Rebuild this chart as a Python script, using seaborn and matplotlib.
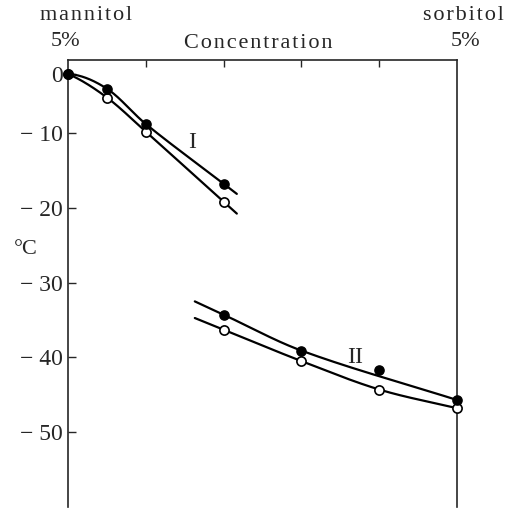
import numpy as np
import matplotlib
matplotlib.use("Agg")
import matplotlib.pyplot as plt
import seaborn as sns

# Freezing-point curves across the mannitol -> sorbitol concentration series
conc_I = [0, 10, 20, 40]
temp_I_filled = [0.0, -2.5, -8.5, -16.8]
temp_I_open = [0.0, -4.0, -9.8, -19.2]

conc_II = [40, 60, 80, 100]
temp_II_filled = [-34.3, -39.1, -41.7, -45.7]
temp_II_open = [-36.3, -40.5, -44.3, -46.8]
on_curve_II_filled = [True, True, False, True]

y_ticks = [0, -10, -20, -30, -40, -50]
y_tick_labels = ["0", "− 10", "− 20", "− 30", "− 40", "− 50"]
x_ticks = [20, 40, 60, 80]

# Curve extents along the concentration axis
span_I = (0, 43.4)
span_II = (32.6, 100)

# The temperature axis is compressed above -10 °C
K = 0.787


def fwd(v):
    v = np.asarray(v, dtype=float)
    return np.where(v < -10, v, -10 + (v + 10) * K)


def inv(f):
    f = np.asarray(f, dtype=float)
    return np.where(f < -10, f, -10 + (f + 10) / K)


def smooth_curve(xs, ys, lo, hi, start_slope=None, n=300):
    """Cardinal cubic Hermite through (xs, ys) in display space, extended linearly."""
    xs = np.asarray(xs, float)
    ys = fwd(ys)
    h = np.diff(xs)
    delta = np.diff(ys) / h
    m = len(xs)
    d = np.zeros(m)
    for k in range(1, m - 1):
        d[k] = (ys[k + 1] - ys[k - 1]) / (xs[k + 1] - xs[k - 1])
    d[0] = delta[0] if start_slope is None else start_slope
    d[-1] = delta[-1]
    gx = np.linspace(lo, hi, n)
    gy = np.empty_like(gx)
    for i, x in enumerate(gx):
        if x <= xs[0]:
            gy[i] = ys[0] + d[0] * (x - xs[0])
        elif x >= xs[-1]:
            gy[i] = ys[-1] + d[-1] * (x - xs[-1])
        else:
            k = min(np.searchsorted(xs, x) - 1, m - 2)
            t = (x - xs[k]) / h[k]
            h00 = 2 * t**3 - 3 * t**2 + 1
            h10 = t**3 - 2 * t**2 + t
            h01 = -2 * t**3 + 3 * t**2
            h11 = t**3 - t**2
            gy[i] = h00 * ys[k] + h10 * h[k] * d[k] + h01 * ys[k + 1] + h11 * h[k] * d[k + 1]
    return gx, inv(gy)


def spaced(s):
    return "\u200a".join(s)


sns.set_style("ticks")
plt.rcParams["font.family"] = ["Liberation Serif", "DejaVu Serif"]

fig = plt.figure(figsize=(5.06, 5.08), dpi=100)
ax = fig.add_axes([68 / 506, 1 / 508, (457 - 68) / 506, (507 - 60) / 508])
ax.set_yscale("function", functions=(fwd, inv))

lw = 1.6
ms = 44
curves = [
    (conc_I, temp_I_filled, span_I, -0.03),
    (conc_I, temp_I_open, span_I, -0.22),
    (np.array(conc_II)[on_curve_II_filled], np.array(temp_II_filled)[on_curve_II_filled], span_II, None),
    (conc_II, temp_II_open, span_II, None),
]
for xs, ys, span, s0 in curves:
    gx, gy = smooth_curve(xs, ys, *span, start_slope=s0)
    sns.lineplot(x=gx, y=gy, ax=ax, color="black", lw=lw, sort=False, estimator=None)

for xs, ys in [(conc_I, temp_I_open), (conc_II, temp_II_open)]:
    sns.scatterplot(x=xs, y=ys, ax=ax, s=ms, facecolor="white", edgecolor="black",
                    linewidth=1.2, clip_on=False, zorder=5)
for xs, ys in [(conc_I, temp_I_filled), (conc_II, temp_II_filled)]:
    sns.scatterplot(x=xs, y=ys, ax=ax, s=ms, color="black", edgecolor="black",
                    linewidth=1.0, clip_on=False, zorder=6)

ax.set_xlim(0, 100)
ax.set_ylim(-60, 2.37)

ax.spines["bottom"].set_visible(False)
for s in ["left", "right", "top"]:
    ax.spines[s].set_linewidth(1.2)

ax.set_xticks(x_ticks)
ax.tick_params(axis="x", which="both", bottom=False, top=True, direction="in",
               length=5, width=1.0, labelbottom=False, labeltop=False)
ax.set_yticks(y_ticks)
ax.set_yticklabels(y_tick_labels)
ax.yaxis.set_minor_locator(matplotlib.ticker.NullLocator())
ax.tick_params(axis="y", direction="in", length=6, width=1.0, labelsize=17, pad=4)
ax.set_xlabel("")
ax.set_ylabel("")

ax.text(32, -11.3, "I", fontsize=17, ha="center", va="center")
ax.text(73.8, -40.0, "II", fontsize=17, ha="center", va="center")

fs = 16
fig.text(86 / 506, 1 - 16 / 508, spaced("mannitol"), fontsize=fs, ha="center", va="center")
fig.text(66 / 506, 1 - 42 / 508, "5%", fontsize=fs, ha="center", va="center")
fig.text(258 / 506, 1 - 43 / 508, spaced("Concentration"), fontsize=fs, ha="center", va="center")
fig.text(463 / 506, 1 - 16 / 508, spaced("sorbitol"), fontsize=fs, ha="center", va="center")
fig.text(466 / 506, 1 - 42 / 508, "5%", fontsize=fs, ha="center", va="center")
fig.text(26 / 506, 1 - 250 / 508, "°C", fontsize=fs, ha="center", va="center")

fig.savefig("out.png", dpi=100)
